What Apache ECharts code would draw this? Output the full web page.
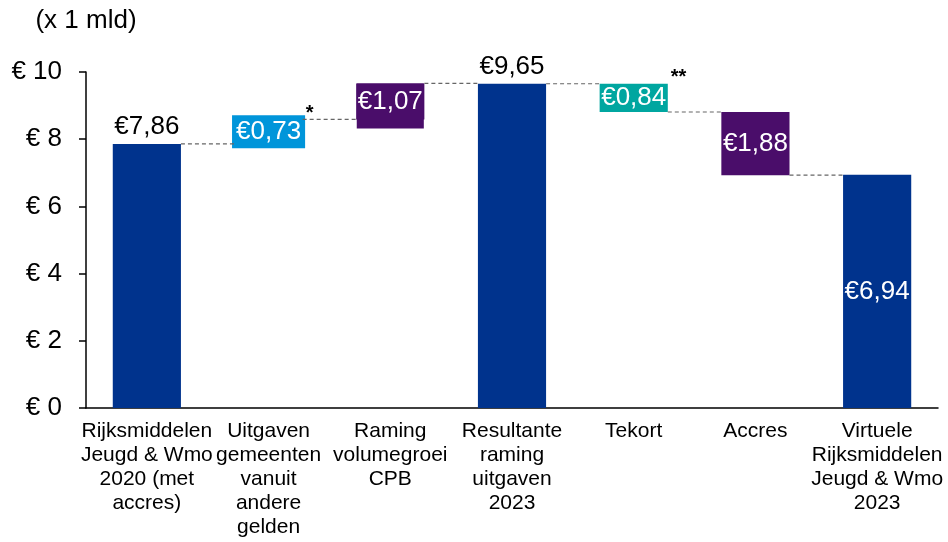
<!DOCTYPE html>
<html>
<head>
<meta charset="utf-8">
<script src="https://cdn.jsdelivr.net/npm/echarts@6/dist/echarts.min.js"></script>
<style>
  html, body { margin: 0; padding: 0; background: #fff; }
  #chart { width: 948px; height: 542px; }
</style>
</head>
<body>
<div id="chart"></div>
<script>
// categories and values (x 1 mld)
const categories = [
  'Rijksmiddelen\nJeugd & Wmo\n2020 (met\naccres)',
  'Uitgaven\ngemeenten\nvanuit\nandere\ngelden',
  'Raming\nvolumegroei\nCPB',
  'Resultante\nraming\nuitgaven\n2023',
  'Tekort',
  'Accres',
  'Virtuele\nRijksmiddelen\nJeugd & Wmo\n2023'
];
const changes = [7.86, 0.73, 1.07, 9.65, -0.84, -1.88, 6.94];
const isTotal = [true, false, false, true, false, false, true];
const notes = ['', '*', '', '', '**', '', ''];
const yTicks = [0, 2, 4, 6, 8, 10];

const FONT = 'Liberation Sans, Arial, sans-serif';
const darkBlue = '#00338D';
const lightBlue = '#0095DA';
const purple = '#4A0D6A';
const teal = '#00A6A0';
const colors = [darkBlue, lightBlue, purple, darkBlue, teal, purple, darkBlue];

// waterfall: base + visible part
let running = 0;
const base = [], height = [], level = [], barTop = [];
for (let i = 0; i < changes.length; i++) {
  const v = changes[i];
  if (isTotal[i]) {
    base.push(0); height.push(v); running = v;
    level.push(v);
  } else if (v >= 0) {
    base.push(running); height.push(v); running += v;
    level.push(running);
  } else {
    running += v; base.push(running); height.push(-v);
    level.push(running);
  }
  barTop.push(base[i] + height[i]);
}

function fmt(v) { return '€' + Math.abs(v).toFixed(2).replace('.', ','); }

function labelFor(i) {
  const l = { show: true, fontSize: 26, fontFamily: FONT, formatter: fmt(changes[i]) };
  if (i === 0 || i === 3) {
    return Object.assign(l, { position: 'top', distance: 4, color: '#000' });
  }
  if (i === 1) {
    return Object.assign(l, { position: 'inside', color: '#fff', backgroundColor: lightBlue,
      padding: [3, 4, 4, 4], lineHeight: 26 });
  }
  if (i === 2) {
    return Object.assign(l, { position: 'insideTop', distance: 0, color: '#fff', backgroundColor: purple,
      padding: [5, 1, 14, 1], lineHeight: 26 });
  }
  return Object.assign(l, { position: 'inside', color: '#fff' });
}

const connectors = [];
for (let i = 0; i < changes.length - 1; i++) {
  connectors.push([i, level[i], barTop[i], notes[i]]);
}

const chart = echarts.init(document.getElementById('chart'));
chart.setOption({
  animation: false,
  grid: { left: 86, right: 10, top: 72, bottom: 134, containLabel: false },
  xAxis: {
    type: 'category',
    data: categories,
    axisLine: { lineStyle: { color: '#000', width: 1.5 } },
    axisTick: { show: false },
    axisLabel: { interval: 0, color: '#000', fontSize: 21, lineHeight: 24, fontFamily: FONT, margin: 11 }
  },
  yAxis: {
    type: 'value',
    min: 0, max: 10, interval: 2,
    name: '(x 1 mld)',
    nameLocation: 'end',
    nameGap: 38,
    nameTextStyle: { color: '#000', fontSize: 26, fontFamily: FONT, align: 'center' },
    axisLine: { show: true, lineStyle: { color: '#000', width: 1.5 } },
    axisTick: { show: true, length: 7, lineStyle: { color: '#000', width: 1.5 } },
    splitLine: { show: false },
    axisLabel: {
      color: '#000', fontSize: 26, fontFamily: FONT, margin: 24,
      formatter: v => yTicks.indexOf(v) >= 0 ? '€ ' + v : ''
    }
  },
  series: [
    {
      type: 'bar', stack: 'w', barWidth: '56%', silent: true,
      itemStyle: { color: 'transparent' },
      data: base
    },
    {
      type: 'bar', stack: 'w', barWidth: '56%',
      data: height.map((h, i) => ({
        value: h,
        itemStyle: { color: colors[i] },
        label: labelFor(i)
      }))
    },
    {
      type: 'custom', silent: true, z: 5,
      encode: { x: 0, y: 1 },
      data: connectors,
      renderItem: function (params, api) {
        const i = api.value(0);
        const lv = api.value(1);
        const tp = api.value(2);
        const note = connectors[params.dataIndex][3];
        const bw = api.size([1, 0])[0] * 0.56;
        const a = api.coord([i, lv]);
        const b = api.coord([i + 1, lv]);
        const children = [{
          type: 'line',
          shape: { x1: a[0] + bw / 2, y1: a[1], x2: b[0] - bw / 2, y2: b[1] },
          style: { stroke: '#666', lineWidth: 1.2, lineDash: [4, 3] }
        }];
        if (note) {
          const t = api.coord([i, tp]);
          children.push({
            type: 'text',
            style: {
              text: note, x: t[0] + bw / 2 + 3, y: t[1] + 4,
              fill: '#000', font: 'bold 20px ' + FONT,
              align: 'left', verticalAlign: 'bottom'
            }
          });
        }
        return { type: 'group', children: children };
      }
    }
  ]
});
window.onresize = function () { chart.resize(); };
</script>
</body>
</html>
